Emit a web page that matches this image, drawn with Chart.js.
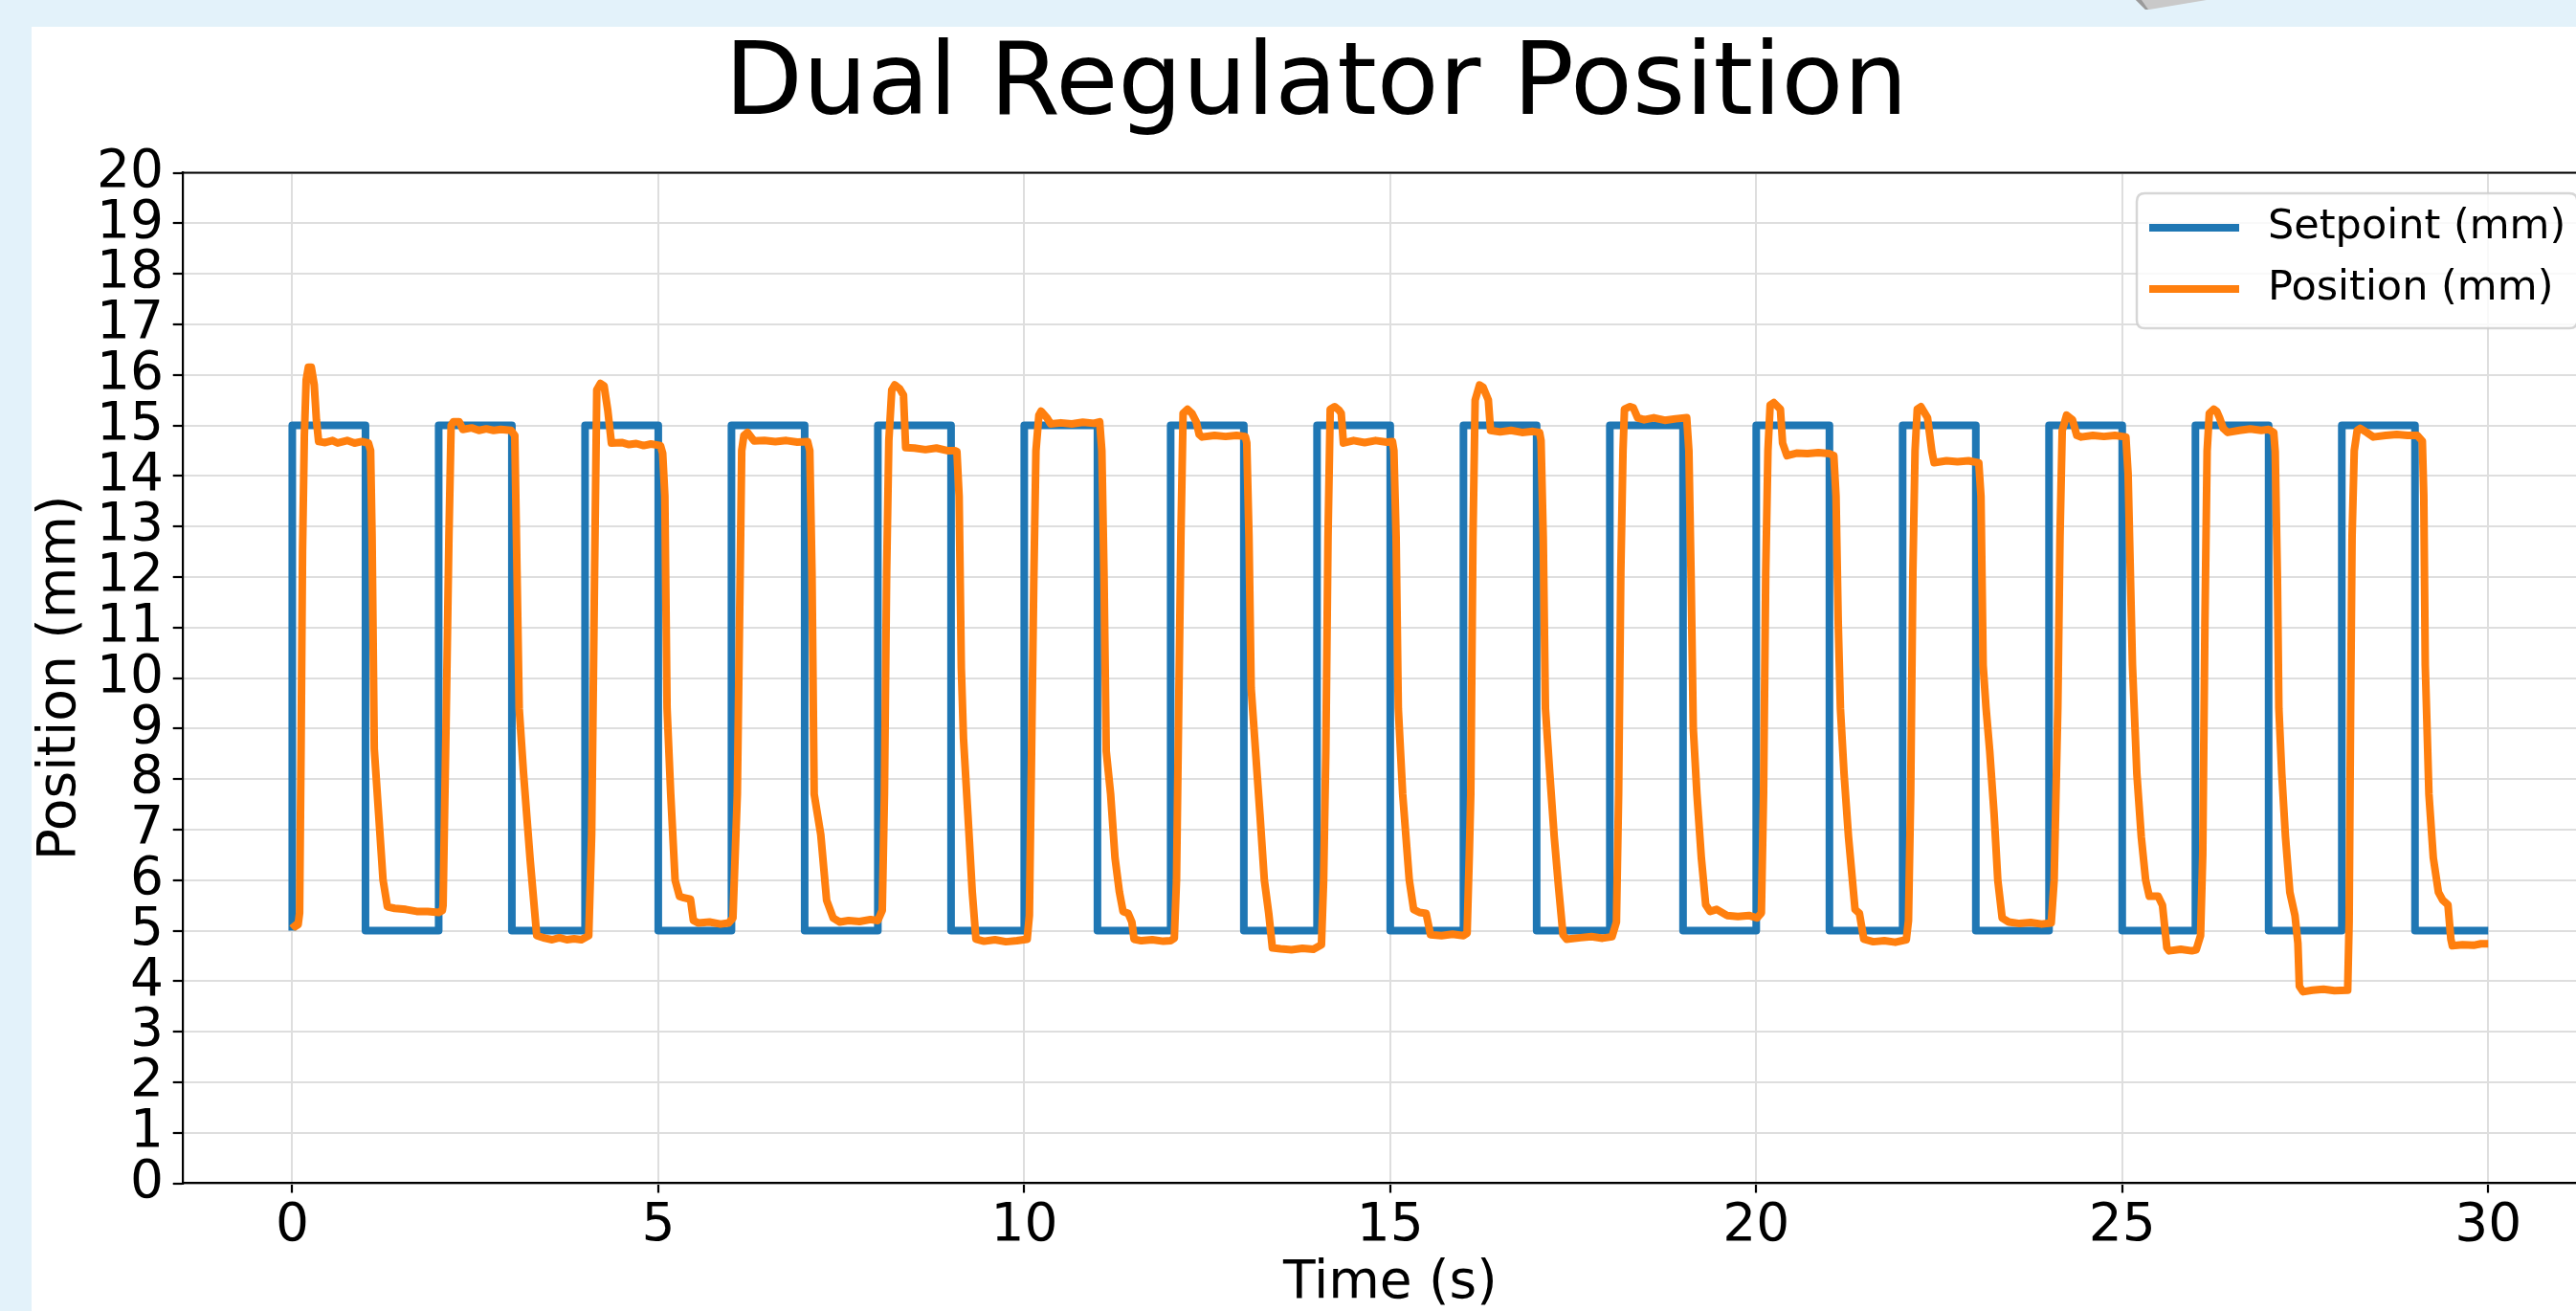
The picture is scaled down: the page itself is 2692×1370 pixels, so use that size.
<!DOCTYPE html>
<html>
<head>
<meta charset="utf-8">
<script src="https://cdn.jsdelivr.net/npm/chart.js@4.4.1/dist/chart.umd.min.js"></script>
<style>
html, body { margin: 0; padding: 0; overflow: hidden; width: 2692px; height: 1370px; background: #e3f2fa; }
#wrap { position: absolute; left: 0; top: 0; width: 2740px; height: 1370px; }
canvas { display: block; }
</style>
</head>
<body>
<div id="wrap"><canvas id="c" width="2740" height="1370"></canvas></div>
<script>
const chartTitle = 'Dual Regulator Position';
const xAxisTitle = 'Time (s)';
const yAxisTitle = 'Position (mm)';
const seriesNames = ['Setpoint (mm)', 'Position (mm)'];
const seriesColors = ['#1f77b4', '#ff7f0e'];

const xTickValues = [0, 5, 10, 15, 20, 25, 30];
const yTickValues = [0, 1, 2, 3, 4, 5, 6, 7, 8, 9, 10, 11, 12, 13, 14, 15, 16, 17, 18, 19, 20];

const setpointTime = [0, 0, 1, 1, 2, 2, 3, 3, 4, 4, 5, 5, 6, 6, 7, 7, 8, 8, 9, 9,
  10, 10, 11, 11, 12, 12, 13, 13, 14, 14, 15, 15, 16, 16, 17, 17, 18, 18, 19, 19,
  20, 20, 21, 21, 22, 22, 23, 23, 24, 24, 25, 25, 26, 26, 27, 27, 28, 28, 29, 29, 30];
const setpointMm = [5, 15, 15, 5, 5, 15, 15, 5, 5, 15, 15, 5, 5, 15, 15, 5, 5, 15, 15, 5,
  5, 15, 15, 5, 5, 15, 15, 5, 5, 15, 15, 5, 5, 15, 15, 5, 5, 15, 15, 5,
  5, 15, 15, 5, 5, 15, 15, 5, 5, 15, 15, 5, 5, 15, 15, 5, 5, 15, 15, 5, 5];

const positionTime = [
  0.00,0.04,0.08,0.10,0.12,0.14,0.165,0.19,0.22,0.26,0.30,0.33,0.36,0.45,0.55,0.62,0.75,0.85,0.95,1.04,1.07,1.09,1.12,1.18,1.24,1.30,1.40,1.55,1.70,1.85,2.00,2.05,
  2.06,2.10,2.14,2.17,2.20,2.28,2.33,2.45,2.55,2.65,2.75,2.85,2.99,3.04,3.07,3.10,3.16,3.25,3.34,3.45,3.55,3.65,3.75,3.85,3.95,4.05,
  4.09,4.13,4.16,4.21,4.26,4.31,4.36,4.50,4.60,4.70,4.80,4.90,5.03,5.06,5.09,5.12,5.17,5.23,5.29,5.35,5.44,5.48,5.55,5.70,5.85,5.96,6.02,
  6.08,6.11,6.14,6.17,6.22,6.31,6.45,6.60,6.75,6.90,7.04,7.07,7.10,7.13,7.22,7.30,7.39,7.48,7.60,7.75,7.90,8.00,8.06,
  8.09,8.12,8.15,8.19,8.23,8.30,8.35,8.38,8.50,8.65,8.80,8.95,9.05,9.08,9.11,9.14,9.17,9.23,9.29,9.34,9.45,9.60,9.75,9.90,10.04,
  10.07,10.10,10.13,10.16,10.20,10.23,10.31,10.36,10.50,10.65,10.80,10.95,11.03,11.06,11.09,11.12,11.18,11.24,11.30,11.35,11.42,11.47,11.50,11.60,11.75,11.90,12.00,12.05,
  12.08,12.11,12.14,12.17,12.23,12.29,12.35,12.39,12.43,12.60,12.75,12.90,13.02,13.04,13.07,13.10,13.16,13.22,13.28,13.34,13.39,13.50,13.65,13.80,13.95,14.06,
  14.09,14.12,14.15,14.18,14.24,14.30,14.33,14.36,14.50,14.65,14.80,14.95,15.03,15.05,15.08,15.11,15.17,15.26,15.32,15.40,15.49,15.55,15.70,15.85,16.00,16.05,
  16.08,16.10,16.13,16.16,16.22,16.27,16.34,16.37,16.50,16.65,16.80,16.95,17.04,17.06,17.09,17.12,17.18,17.24,17.30,17.36,17.41,17.60,17.75,17.90,18.03,
  18.09,18.12,18.15,18.18,18.20,18.27,18.32,18.38,18.47,18.60,18.75,18.90,19.05,19.08,19.11,19.14,19.19,19.25,19.31,19.37,19.46,19.60,19.75,19.90,20.01,
  20.07,20.10,20.13,20.16,20.19,20.24,20.33,20.36,20.42,20.55,20.70,20.85,21.00,21.06,21.09,21.12,21.15,21.20,21.26,21.35,21.41,21.47,21.60,21.75,21.90,22.05,
  22.08,22.11,22.14,22.17,22.20,22.25,22.34,22.40,22.43,22.60,22.75,22.90,23.04,23.07,23.10,23.14,23.19,23.25,23.30,23.36,23.45,23.60,23.75,23.90,24.03,
  24.07,24.12,24.15,24.18,24.24,24.32,24.38,24.44,24.60,24.75,24.90,25.05,25.08,25.14,25.20,25.26,25.32,25.37,25.49,25.55,25.61,25.64,25.80,25.95,26.01,
  26.07,26.10,26.13,26.16,26.19,26.25,26.29,26.33,26.38,26.44,26.60,26.75,26.90,27.00,27.07,27.09,27.12,27.14,27.18,27.23,27.29,27.36,27.40,27.42,27.47,27.60,27.75,27.90,28.08,
  28.10,28.12,28.14,28.17,28.21,28.25,28.34,28.43,28.60,28.75,28.90,29.03,29.10,29.12,29.14,29.19,29.25,29.32,29.38,29.45,29.49,29.51,29.65,29.80,29.90,30.00
];
const positionMm = [
  5.15,5.08,5.12,5.35,8.6,12.5,14.8,15.9,16.15,16.15,15.8,15.1,14.68,14.66,14.7,14.65,14.7,14.65,14.68,14.65,14.5,12.8,8.6,7.3,6.0,5.47,5.44,5.42,5.38,5.38,5.36,5.4,
  5.5,9.0,12.8,15.0,15.07,15.07,14.92,14.95,14.9,14.93,14.9,14.92,14.9,14.8,12.1,9.4,8.1,6.4,4.9,4.85,4.82,4.86,4.82,4.84,4.82,4.9,
  6.9,12.1,15.7,15.83,15.78,15.3,14.65,14.66,14.62,14.64,14.6,14.63,14.6,14.45,13.6,9.4,7.7,6.0,5.68,5.65,5.62,5.2,5.15,5.17,5.13,5.15,5.25,
  7.7,11.1,14.5,14.8,14.86,14.69,14.7,14.68,14.7,14.67,14.68,14.5,12.1,7.7,6.9,5.6,5.25,5.17,5.2,5.18,5.22,5.2,5.4,
  7.7,12.1,14.7,15.7,15.8,15.72,15.6,14.56,14.55,14.52,14.55,14.5,14.5,14.48,13.6,10.2,8.8,7.3,5.76,4.83,4.79,4.82,4.78,4.8,4.83,
  5.3,8.55,11.9,14.5,15.2,15.28,15.15,15.03,15.05,15.03,15.06,15.04,15.07,14.5,12.0,8.55,7.7,6.44,5.76,5.38,5.34,5.17,4.83,4.8,4.82,4.79,4.8,4.85,
  6.0,9.4,12.8,15.24,15.32,15.24,15.07,14.82,14.77,14.8,14.78,14.8,14.78,14.65,12.8,9.8,8.55,7.3,6.0,5.34,4.66,4.64,4.62,4.65,4.63,4.72,
  6.0,8.55,12.8,15.32,15.37,15.3,15.24,14.65,14.7,14.66,14.7,14.67,14.68,14.5,12.8,9.4,7.7,6.0,5.42,5.36,5.34,4.92,4.9,4.93,4.9,4.95,
  6.5,7.7,12.8,15.5,15.8,15.75,15.5,14.9,14.87,14.9,14.86,14.88,14.86,14.7,12.8,9.4,8.1,6.86,5.85,4.92,4.83,4.86,4.88,4.85,4.88,
  5.17,7.7,12.1,14.5,15.32,15.37,15.35,15.15,15.11,15.15,15.1,15.13,15.15,14.5,12.0,9.0,7.7,6.44,5.51,5.38,5.42,5.3,5.28,5.3,5.25,
  5.35,7.7,12.1,14.5,15.4,15.45,15.32,14.65,14.4,14.45,14.44,14.46,14.44,14.4,13.6,11.1,9.4,8.1,6.86,5.42,5.34,4.83,4.78,4.8,4.77,4.82,
  5.2,7.7,12.1,14.5,15.32,15.37,15.15,14.48,14.26,14.3,14.28,14.3,14.26,13.6,10.25,9.4,8.55,7.3,6.0,5.25,5.17,5.14,5.16,5.13,5.15,
  6.0,9.4,12.8,14.9,15.2,15.11,14.8,14.77,14.8,14.78,14.8,14.77,14.05,10.25,8.1,6.86,6.0,5.68,5.68,5.5,4.66,4.6,4.63,4.6,4.62,
  4.9,6.5,11.1,14.5,15.24,15.32,15.28,15.15,14.94,14.86,14.9,14.93,14.9,14.92,14.86,14.48,12.0,9.4,8.1,6.86,5.76,5.3,4.75,3.9,3.79,3.82,3.84,3.81,3.82,
  5.17,9.4,12.8,14.5,14.9,14.94,14.86,14.77,14.8,14.82,14.8,14.8,14.69,13.6,10.25,7.7,6.44,5.76,5.6,5.51,4.83,4.7,4.72,4.71,4.74,4.74
];

const FONT = 'DejaVu Sans';

const pageBackground = {
  id: 'pageBackground',
  beforeDraw(chart) {
    const ctx = chart.ctx;
    const w = chart.width, h = chart.height;
    ctx.save();
    ctx.fillStyle = '#e3f2fa';
    ctx.fillRect(0, 0, w, h);
    ctx.fillStyle = '#ffffff';
    ctx.fillRect(33, 28, w - 33, h - 28);
    ctx.beginPath();
    ctx.moveTo(2232, 0);
    ctx.lineTo(2242, 10);
    ctx.lineTo(2246, 10);
    ctx.lineTo(2306, 0);
    ctx.closePath();
    ctx.fillStyle = '#c9c9c9';
    ctx.fill();
    ctx.beginPath();
    ctx.moveTo(2232, 0);
    ctx.lineTo(2242, 10);
    ctx.lineTo(2245, 10);
    ctx.lineTo(2238, 0);
    ctx.closePath();
    ctx.fillStyle = '#9a9a9a';
    ctx.fill();
    ctx.restore();
  }
};

const topSpine = {
  id: 'topSpine',
  afterDatasetsDraw(chart) {
    const {ctx, chartArea} = chart;
    ctx.save();
    ctx.strokeStyle = '#000';
    ctx.lineWidth = 2.2;
    ctx.beginPath();
    ctx.moveTo(chartArea.left - 1.1, chartArea.top);
    ctx.lineTo(chartArea.right, chartArea.top);
    ctx.stroke();
    ctx.restore();
  }
};

const boxLegend = {
  id: 'boxLegend',
  afterDraw(chart) {
    const {ctx, chartArea} = chart;
    const fs = 43;
    const sets = chart.data.datasets;
    const boxRight = chartArea.right - 21.5;
    const boxTop = chartArea.top + 21.5;
    const boxLeft = 2233;
    const boxBottom = boxTop + 141;
    const r = 8.6;
    ctx.save();
    ctx.beginPath();
    ctx.moveTo(boxLeft + r, boxTop);
    ctx.lineTo(boxRight - r, boxTop);
    ctx.quadraticCurveTo(boxRight, boxTop, boxRight, boxTop + r);
    ctx.lineTo(boxRight, boxBottom - r);
    ctx.quadraticCurveTo(boxRight, boxBottom, boxRight - r, boxBottom);
    ctx.lineTo(boxLeft + r, boxBottom);
    ctx.quadraticCurveTo(boxLeft, boxBottom, boxLeft, boxBottom - r);
    ctx.lineTo(boxLeft, boxTop + r);
    ctx.quadraticCurveTo(boxLeft, boxTop, boxLeft + r, boxTop);
    ctx.closePath();
    ctx.fillStyle = 'rgba(255,255,255,0.8)';
    ctx.fill();
    ctx.strokeStyle = 'rgba(204,204,204,0.8)';
    ctx.lineWidth = 2.5;
    ctx.stroke();
    const rowY = [boxTop + 36, boxTop + 100];
    sets.forEach((ds, i) => {
      const y = rowY[i];
      ctx.strokeStyle = ds.borderColor;
      ctx.lineWidth = 8;
      ctx.lineCap = 'square';
      ctx.beginPath();
      ctx.moveTo(boxLeft + 17, y);
      ctx.lineTo(boxLeft + 103, y);
      ctx.stroke();
      ctx.fillStyle = '#000';
      ctx.font = fs + 'px "' + FONT + '"';
      ctx.textBaseline = 'middle';
      ctx.textAlign = 'left';
      ctx.fillText(ds.label, boxLeft + 137, y);
    });
    ctx.restore();
  }
};

const toPoints = (xs, ys) => xs.map((x, i) => ({x: x, y: ys[i]}));

const gridOpts = {
  color: '#dedede',
  lineWidth: 2,
  drawTicks: true,
  tickLength: 10,
  tickColor: '#000',
  tickWidth: 2.2
};

new Chart(document.getElementById('c'), {
  type: 'line',
  data: {
    datasets: [
      {
        label: seriesNames[0],
        data: toPoints(setpointTime, setpointMm),
        borderColor: seriesColors[0],
        backgroundColor: seriesColors[0],
        borderWidth: 8,
        pointRadius: 0,
        tension: 0,
        fill: false,
        borderJoinStyle: 'round',
        order: 2
      },
      {
        label: seriesNames[1],
        data: toPoints(positionTime, positionMm),
        borderColor: seriesColors[1],
        backgroundColor: seriesColors[1],
        borderWidth: 8,
        pointRadius: 0,
        tension: 0,
        fill: false,
        borderJoinStyle: 'round',
        order: 1
      }
    ]
  },
  options: {
    responsive: false,
    animation: false,
    devicePixelRatio: 1,
    events: [],
    layout: { padding: { left: 36, right: 25, top: 0, bottom: 0 } },
    plugins: {
      legend: { display: false },
      tooltip: { enabled: false },
      title: {
        display: true,
        text: chartTitle,
        color: '#000',
        font: { family: FONT, size: 106, weight: 'normal', lineHeight: 1 },
        padding: { top: 38.5, bottom: 36 }
      }
    },
    scales: {
      x: {
        type: 'linear',
        min: -1.5,
        max: 31.5,
        afterBuildTicks: (scale) => { scale.ticks = xTickValues.map(v => ({value: v})); },
        afterFit: (scale) => { scale.height = 133.5; },
        ticks: {
          color: '#000',
          font: { family: FONT, size: 55, lineHeight: 1 },
          padding: 7.5,
          maxRotation: 0,
          autoSkip: false,
          callback: (v) => String(v)
        },
        grid: gridOpts,
        border: { display: true, color: '#000', width: 2.2 },
        title: {
          display: true,
          text: xAxisTitle,
          color: '#000',
          font: { family: FONT, size: 55, lineHeight: 1 },
          padding: { top: 0, bottom: 0.5 }
        }
      },
      y: {
        type: 'linear',
        min: 0,
        max: 20,
        afterBuildTicks: (scale) => { scale.ticks = yTickValues.map(v => ({value: v})); },
        afterFit: (scale) => { scale.width = 154.7; },
        ticks: {
          color: '#000',
          font: { family: FONT, size: 55, lineHeight: 1 },
          padding: 9.7,
          autoSkip: false,
          callback: (v) => String(v)
        },
        grid: gridOpts,
        border: { display: true, color: '#000', width: 2.2 },
        title: {
          display: true,
          text: yAxisTitle,
          color: '#000',
          font: { family: FONT, size: 55, lineHeight: 1 },
          padding: { top: 0, bottom: 0 }
        }
      }
    }
  },
  plugins: [pageBackground, topSpine, boxLegend]
});
</script>
</body>
</html>
